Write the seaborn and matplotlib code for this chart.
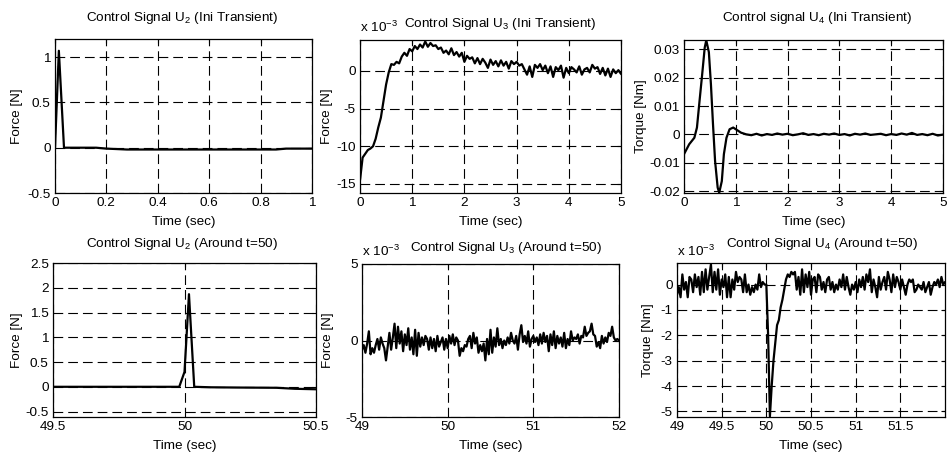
import numpy as np
import pandas as pd
import matplotlib
matplotlib.use("Agg")
import matplotlib.pyplot as plt
import seaborn as sns

# ---------------- data ----------------
# U2 initial transient (Force [N])
u2_ini_t = [0.0, 0.015, 0.035, 0.10, 0.16, 0.20, 0.28, 0.40, 0.60, 0.80, 0.86, 0.90, 1.00]
u2_ini_v = [0.0, 1.07, 0.0, 0.0, 0.0, -0.01, -0.02, -0.02, -0.02, -0.02, -0.02, -0.01, -0.01]

# U3 initial transient (Force, x 1e-3 N), sampled every 0.05 s from 0 to 5
u3_ini_v = [-14.5, -11.5, -11.0, -10.5, -10.3, -10.0, -9.0, -7.5, -6.2, -4.0,
            -1.8, -0.2, 0.9, 0.8, 1.2, 1.0, 1.9, 2.4, 2.0, 2.9,
            2.6, 3.3, 2.9, 3.5, 3.1, 3.9, 3.2, 3.7, 3.3, 3.4,
            2.9, 3.1, 2.4, 2.7, 2.2, 3.0, 2.1, 2.5, 1.9, 2.4,
            1.2, 2.0, 1.6, 1.8, 1.0, 1.7, 0.9, 1.6, 1.1, 0.4,
            1.5, 0.8, 1.3, 0.6, 1.4, 0.7, 1.2, 0.3, 1.3, 0.9,
            1.2, 0.7, 0.9, 0.2, -0.5, 0.6, -0.8, 0.8, 0.4, 0.9,
            0.1, 0.7, -0.3, 0.6, -0.8, 0.5, 0.1, 0.7, -0.9, 0.4,
            -0.3, 0.5, 0.2, -0.2, 0.6, -0.5, 0.2, 0.4, -0.2, 0.8,
            0.3, 0.5, -0.4, 0.4, -0.6, 0.3, -0.8, 0.2, -0.3, 0.1, -0.4]

# U4 initial transient (Torque [Nm])
u4_ini_t = [0.0, 0.1, 0.2, 0.25, 0.3, 0.35, 0.4, 0.43, 0.48, 0.52, 0.56, 0.6, 0.65,
            0.68, 0.73, 0.77, 0.82, 0.88, 0.95, 1.0, 1.1, 1.2,
            1.3, 1.4, 1.5, 1.6, 1.7, 1.8, 1.9, 2.0, 2.1, 2.2, 2.3, 2.4, 2.5, 2.6,
            2.7, 2.8, 2.9, 3.0, 3.1, 3.2, 3.3, 3.4, 3.5, 3.6, 3.7, 3.8, 3.9, 4.0,
            4.1, 4.2, 4.3, 4.4, 4.5, 4.6, 4.7, 4.8, 4.9, 5.0]
u4_ini_v = [-0.0070, -0.0035, -0.0012, 0.0024, 0.0118, 0.0210, 0.0306, 0.0332, 0.0290,
            0.0176, 0.0035, -0.0094, -0.0188, -0.0206, -0.0165, -0.0070, -0.0012,
            0.0018, 0.0024, 0.0018, 0.0006, 0.0000,
            -0.0003, 0.0002, -0.0004, 0.0001, -0.0002, 0.0003, -0.0001, 0.0002,
            -0.0003, 0.0000, 0.0004, -0.0002, 0.0001, -0.0003, 0.0002, -0.0001,
            0.0003, -0.0002, 0.0001, -0.0004, 0.0002, -0.0001, 0.0003, -0.0002,
            0.0000, 0.0002, -0.0003, 0.0001, -0.0002, 0.0003, -0.0001, 0.0005,
            -0.0002, 0.0001, -0.0003, 0.0002, -0.0004, -0.0001]

# U2 around t=50 (Force [N])
u2_50_t = [49.5, 49.98, 50.0, 50.017, 50.037, 50.10, 50.20, 50.35, 50.42, 50.50]
u2_50_v = [0.0, 0.0, 0.3, 1.87, 0.0, -0.01, -0.015, -0.02, -0.04, -0.05]

# U3 around t=50 (Force, x 1e-3 N), every 0.02 s from 49 to 52
u3_50_v = [-0.6, -0.3, -0.8, -0.2, 0.6, -0.9, -0.5, -0.8, -0.3, 0.1,
           -0.6, 0.2, -0.2, -0.5, -1.3, -0.4, 0.5, -0.6, 0.2, 1.1,
           -0.5, 0.9, -0.2, 0.6, -0.7, 0.4, -0.3, 0.8, -0.6, 0.2,
           -0.9, 0.7, -1.0, 0.5, -0.4, 0.2, -0.3, 0.3, 0.1, -0.6,
           0.2, -0.5, 0.1, -0.7, 0.3, -0.4, -0.1, 0.2, -0.6, 0.1,
           -0.5, 0.3, -0.2, 0.4, -0.3, 0.2, 0.0, -1.0, -0.5, -0.7,
           -0.3, -0.4, 0.1, 0.3, -0.5, 0.5, -0.2, 0.2, -0.8, -0.3,
           -0.7, -0.2, -1.3, 0.1, -0.9, 0.7, -0.8, 0.2, -0.4, 0.8,
           -0.3, 0.1, -0.5, 0.0, -0.3, 0.2, -0.2, 0.5, 0.0, -0.2,
           0.3, -0.6, 0.4, 1.0, -0.1, 0.3, -0.2, 0.6, -0.4, 0.1,
           0.3, -0.1, 0.2, -0.3, 0.4, -0.2, 0.5, -0.1, 0.3, -0.7,
           0.4, -0.3, 0.6, -0.5, 0.3, -0.2, 0.2, -0.4, 0.5, -0.5,
           0.1, -0.3, 0.6, 0.0, 0.2, 0.1, 0.4, -0.2, 0.3, 0.2,
           0.9, 0.3, 0.5, 0.6, 1.1, 0.4, 0.3, -0.4, -0.1, -0.5,
           0.3, -0.2, 0.2, -0.1, 0.5, 0.3, 0.9, 0.2, 0.0, 0.1, 0.0]

# U4 around t=50 (Torque, x 1e-3 Nm), every 0.02 s from 49 to 52
u4_50_v = [-0.4, -0.1, -0.5, 0.4, -0.2, 0.1, -0.5, 0.3, 0.2, -0.3,
           0.4, -0.1, 0.3, -0.4, 0.5, -0.3, 0.6, -0.2, 0.3, 0.8,
           -0.3, 0.5, -0.2, 0.6, -0.4, 0.2, -0.1, 0.4, -0.5, 0.3,
           -0.5, 0.2, -0.2, 0.5, 0.1, 0.3, 0.2, -0.3, 0.4, -0.3,
           0.0, -0.4, -0.1, -0.3, 0.0, -0.2, 0.4, -0.1, 0.1, 0.0,
           0.0, -2.0, -5.2, -4.0, -3.0, -2.3, -1.6, -1.4, -0.9, -0.6,
           -0.2, 0.2, 0.4, 0.3, 0.5, 0.4,
           0.5, -0.2, 0.3, -0.4, 0.6, -0.3, 0.4, -0.1, 0.5, -0.4,
           0.2, 0.3, -0.3, 0.4, 0.3, -0.2, 0.1, -0.3, 0.2, 0.3,
           -0.2, 0.1, -0.3, 0.0, -0.2, 0.2, -0.1, 0.4, -0.2, 0.3,
           -0.1, -0.4, 0.0, -0.2, 0.1, -0.3, 0.2, -0.1, 0.3, -0.2,
           0.4, 0.1, 0.6, -0.3, 0.2, -0.1, -0.5, 0.3, -0.2, 0.1,
           0.3, -0.2, 0.5, 0.2, -0.3, 0.4, -0.1, 0.3, 0.1, -0.2,
           0.2, -0.1, -0.4, 0.0, 0.2, 0.1, 0.2, -0.3, -0.2, 0.0,
           -0.1, -0.2, 0.1, -0.3, -0.1, 0.1, -0.4, -0.1, 0.1, 0.0,
           0.2, -0.1, 0.3, 0.0, 0.1]

titles = ["Control Signal U$_2$ (Ini Transient)",
          "Control Signal U$_3$ (Ini Transient)",
          "Control signal U$_4$ (Ini Transient)",
          "Control Signal U$_2$ (Around t=50)",
          "Control Signal U$_3$ (Around t=50)",
          "Control Signal U$_4$ (Around t=50)"]
ylabels = ["Force [N]", "Force [N]", "Torque [Nm]", "Force [N]", "Force [N]", "Torque [Nm]"]
xlabel = "Time (sec)"

# ---------------- style ----------------
FS = 9.7
sns.set_theme(style="white")
plt.rcParams.update({
    "font.family": ["Liberation Sans", "DejaVu Sans"],
    "font.size": FS,
    "mathtext.fontset": "custom",
    "mathtext.rm": "Liberation Sans",
    "mathtext.it": "Liberation Sans:italic",
    "mathtext.default": "regular",
    "axes.unicode_minus": False,
    "lines.scale_dashes": False,
    "axes.edgecolor": "black",
    "axes.linewidth": 0.9,
    "xtick.color": "black",
    "ytick.color": "black",
    "text.color": "black",
    "axes.labelcolor": "black",
})

W, H = 947, 457
fig = plt.figure(figsize=(W / 100, H / 100), dpi=100)

# axes boxes in pixels: left, right, top, bottom
boxes = [(55, 312, 39, 193), (360, 621, 40, 193), (684, 943, 40, 193),
         (53, 316, 263, 417), (362, 619, 264, 417), (677, 945, 263, 417)]
axes = []
for (l, r, t, b) in boxes:
    axes.append(fig.add_axes([l / W, (H - b) / H, (r - l) / W, (b - t) / H]))

def series(ax, t, v):
    df = pd.DataFrame({"t": t, "v": v})
    sns.lineplot(data=df, x="t", y="v", ax=ax, color="black", lw=1.6,
                 estimator=None, sort=False)

series(axes[0], u2_ini_t, u2_ini_v)
series(axes[1], np.linspace(0, 5, len(u3_ini_v)), u3_ini_v)
series(axes[2], u4_ini_t, u4_ini_v)
series(axes[3], u2_50_t, u2_50_v)
series(axes[4], np.linspace(49, 52, len(u3_50_v)), u3_50_v)
series(axes[5], np.linspace(49, 52, len(u4_50_v)), u4_50_v)

xlims = [(0, 1), (0, 5), (0, 5), (49.5, 50.5), (49, 52), (49, 52)]
ylims = [(-0.5, 1.2), (-16.2, 4.1), (-0.0207, 0.0333), (-0.61, 2.5), (-5, 5), (-5.22, 0.85)]
xticks = [[0, 0.2, 0.4, 0.6, 0.8, 1], [0, 1, 2, 3, 4, 5], [0, 1, 2, 3, 4, 5],
          [49.5, 50, 50.5], [49, 50, 51, 52], [49, 49.5, 50, 50.5, 51, 51.5]]
yticks = [[-0.5, 0, 0.5, 1], [-15, -10, -5, 0], [-0.02, -0.01, 0, 0.01, 0.02, 0.03],
          [-0.5, 0, 0.5, 1, 1.5, 2, 2.5], [-5, 0, 5], [-5, -4, -3, -2, -1, 0]]
ylab_x = [-0.125, -0.103, -0.143, -0.114, -0.109, -0.086]
title_x = [0.494, 0.536, 0.514, 0.49, 0.56, 0.541]
title_y = [1.117, 1.087, 1.126, 1.106, 1.085, 1.106]
offset_axes = {1: 1.054, 4: 1.054, 5: 1.047}

for i, ax in enumerate(axes):
    ax.set_xlim(*xlims[i])
    ax.set_ylim(*ylims[i])
    ax.set_xticks(xticks[i])
    ax.set_yticks(yticks[i])
    ax.xaxis.set_major_formatter(matplotlib.ticker.FormatStrFormatter("%g"))
    ax.yaxis.set_major_formatter(matplotlib.ticker.FormatStrFormatter("%g"))
    ax.tick_params(direction="in", length=3, width=0.8, labelsize=FS, pad=3,
                   top=True, right=True)
    ax.grid(True, color="black", linestyle=(0, (7, 3.6)), linewidth=0.8)
    ax.set_axisbelow(False)
    for s in ax.spines.values():
        s.set_visible(True)
        s.set_color("black")
    ax.set_xlabel(xlabel, fontsize=FS)
    ax.set_ylabel(ylabels[i], fontsize=FS)
    ax.xaxis.set_label_coords(0.5, -0.148)
    ax.yaxis.set_label_coords(ylab_x[i], 0.5)
    ax.set_title(titles[i], x=title_x[i], y=title_y[i], pad=0, fontsize=FS,
                 va="baseline")
    if i in offset_axes:
        ax.text(0.0, offset_axes[i], "x 10$^{-3}$", transform=ax.transAxes,
                ha="left", va="baseline", fontsize=FS)

fig.savefig("out.png", dpi=100)
